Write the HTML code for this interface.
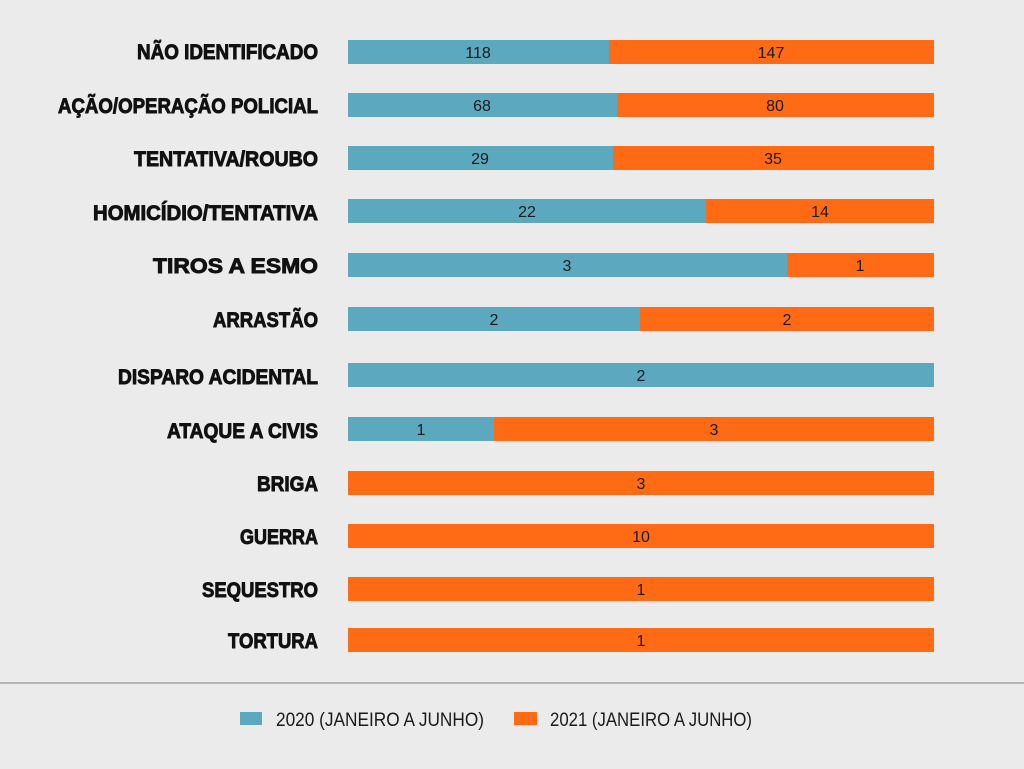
<!DOCTYPE html>
<html><head><meta charset="utf-8"><style>
html,body{margin:0;padding:0;background:#ebebeb;}
svg{display:block;}
</style></head><body>
<svg width="1024" height="769" xmlns="http://www.w3.org/2000/svg">
<rect width="1024" height="769" fill="#ebebeb"/>
<g font-family="'Liberation Sans Narrow','Liberation Sans',sans-serif" font-weight="bold" font-size="21" fill="#111" stroke="#111" stroke-width="0.9" text-anchor="end">
<text x="318" y="59" textLength="181" lengthAdjust="spacingAndGlyphs">NÃO IDENTIFICADO</text>
<text x="318" y="113" textLength="260" lengthAdjust="spacingAndGlyphs">AÇÃO/OPERAÇÃO POLICIAL</text>
<text x="318" y="166" textLength="184" lengthAdjust="spacingAndGlyphs">TENTATIVA/ROUBO</text>
<text x="318" y="220" textLength="225" lengthAdjust="spacingAndGlyphs">HOMICÍDIO/TENTATIVA</text>
<text x="318" y="273" textLength="165" lengthAdjust="spacingAndGlyphs">TIROS A ESMO</text>
<text x="318" y="327" textLength="105" lengthAdjust="spacingAndGlyphs">ARRASTÃO</text>
<text x="318" y="384" textLength="200" lengthAdjust="spacingAndGlyphs">DISPARO ACIDENTAL</text>
<text x="318" y="438" textLength="151" lengthAdjust="spacingAndGlyphs">ATAQUE A CIVIS</text>
<text x="318" y="491" textLength="61" lengthAdjust="spacingAndGlyphs">BRIGA</text>
<text x="318" y="544" textLength="78" lengthAdjust="spacingAndGlyphs">GUERRA</text>
<text x="318" y="597" textLength="116" lengthAdjust="spacingAndGlyphs">SEQUESTRO</text>
<text x="318" y="648" textLength="90" lengthAdjust="spacingAndGlyphs">TORTURA</text>
</g>
<g>
<rect x="348" y="40" width="261" height="24" fill="#5ba8bf"/><rect x="609" y="40" width="325" height="24" fill="#ff6a14"/>
<rect x="348" y="93" width="269" height="24" fill="#5ba8bf"/><rect x="617" y="93" width="317" height="24" fill="#ff6a14"/>
<rect x="348" y="146" width="265" height="24" fill="#5ba8bf"/><rect x="613" y="146" width="321" height="24" fill="#ff6a14"/>
<rect x="348" y="199" width="358" height="24" fill="#5ba8bf"/><rect x="706" y="199" width="228" height="24" fill="#ff6a14"/>
<rect x="348" y="253" width="439" height="24" fill="#5ba8bf"/><rect x="787" y="253" width="147" height="24" fill="#ff6a14"/>
<rect x="348" y="307" width="292" height="24" fill="#5ba8bf"/><rect x="640" y="307" width="294" height="24" fill="#ff6a14"/>
<rect x="348" y="363" width="586" height="24" fill="#5ba8bf"/>
<rect x="348" y="417" width="146" height="24" fill="#5ba8bf"/><rect x="494" y="417" width="440" height="24" fill="#ff6a14"/>
<rect x="348" y="471" width="586" height="24" fill="#ff6a14"/>
<rect x="348" y="524" width="586" height="24" fill="#ff6a14"/>
<rect x="348" y="577" width="586" height="24" fill="#ff6a14"/>
<rect x="348" y="628" width="586" height="24" fill="#ff6a14"/>
</g>
<g font-family="'Liberation Sans Narrow','Liberation Sans',sans-serif" font-size="16" fill="#1a1a1a" text-anchor="middle">
<text x="478" y="58">118</text><text x="771" y="58">147</text>
<text x="482" y="111">68</text><text x="775" y="111">80</text>
<text x="480" y="164">29</text><text x="773" y="164">35</text>
<text x="527" y="217">22</text><text x="820" y="217">14</text>
<text x="567" y="271">3</text><text x="860" y="271">1</text>
<text x="494" y="325">2</text><text x="787" y="325">2</text>
<text x="641" y="381">2</text>
<text x="421" y="435">1</text><text x="714" y="435">3</text>
<text x="641" y="489">3</text>
<text x="641" y="542">10</text>
<text x="641" y="595">1</text>
<text x="641" y="646">1</text>
</g>
<line x1="0" y1="683" x2="1024" y2="683" stroke="#b5b5b5" stroke-width="2"/>
<rect x="240" y="712" width="22" height="13" fill="#5ba8bf"/>
<rect x="514" y="712" width="23" height="13" fill="#ff6a14"/>
<g font-family="'Liberation Sans Narrow','Liberation Sans',sans-serif" font-size="19" fill="#1a1a1a">
<text x="276" y="726" textLength="208" lengthAdjust="spacingAndGlyphs">2020 (JANEIRO A JUNHO)</text>
<text x="550" y="726" textLength="202" lengthAdjust="spacingAndGlyphs">2021 (JANEIRO A JUNHO)</text>
</g>
</svg>
</body></html>
